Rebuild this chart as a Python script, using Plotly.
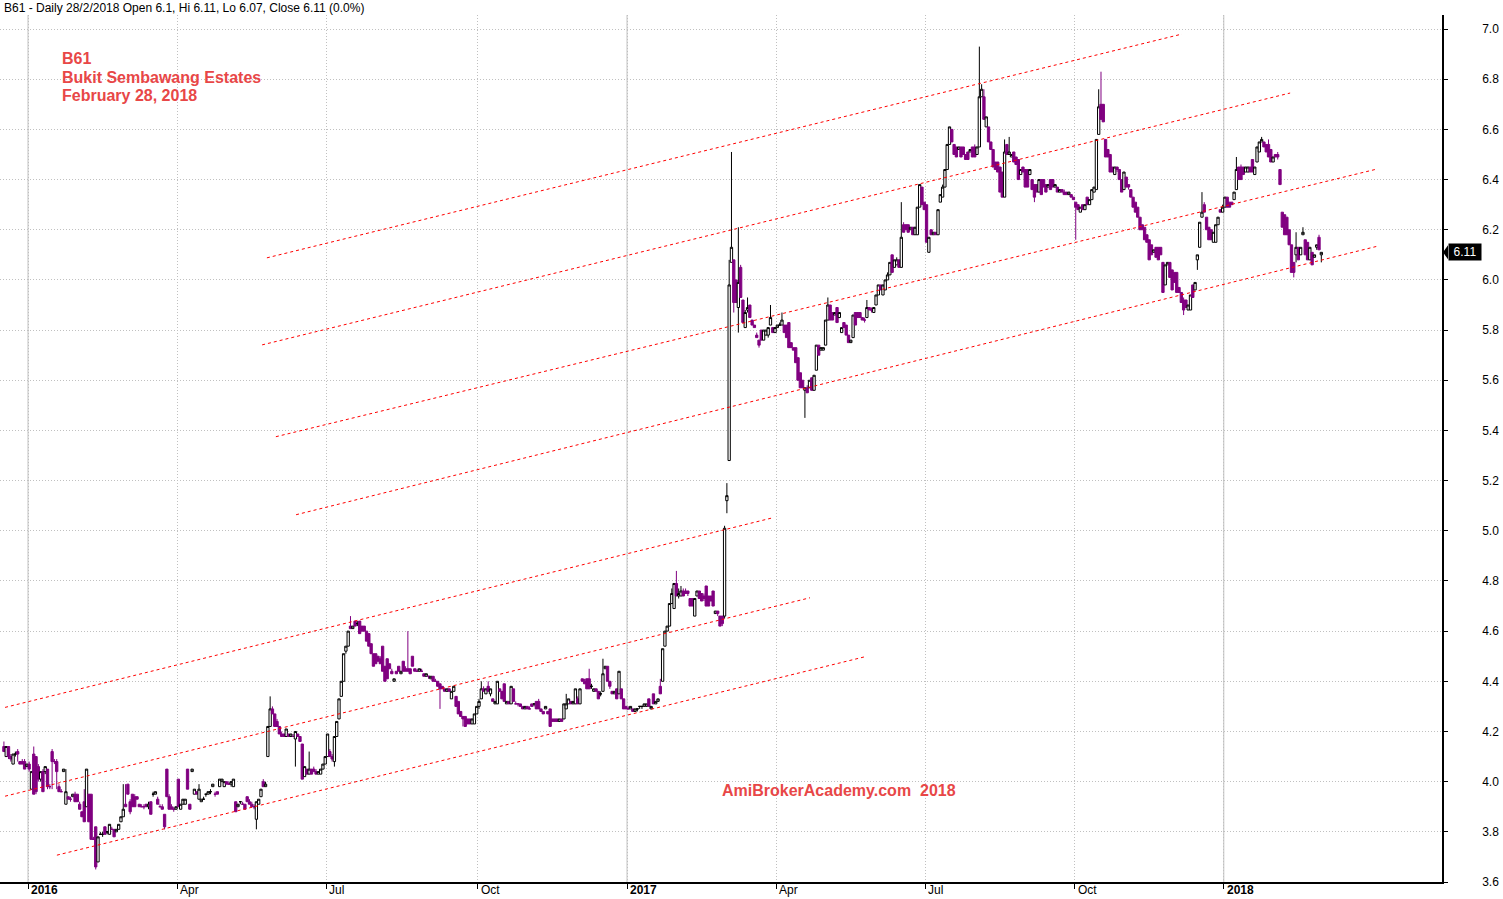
import pandas as pd
import plotly.graph_objects as go

# ---------------- data: daily OHLC (open, high, low, close) per month ----------------
m2015_12 = [(4.14,4.16,4.12,4.12),(4.10,4.14,4.10,4.14),(4.14,4.14,4.09,4.10),(4.10,4.11,4.08,4.09),(4.07,4.11,4.07,4.11),
            (4.11,4.12,4.10,4.11),(4.12,4.13,4.08,4.11),(4.08,4.08,4.07,4.07),(4.08,4.09,4.07,4.07),(4.08,4.09,4.05,4.05),
            (4.06,4.07,4.06,4.07)]
m2016_01 = [(4.07,4.08,4.04,4.05),(3.97,4.04,3.97,4.04),(4.11,4.14,3.95,3.95),(4.10,4.10,3.95,3.96),(4.06,4.07,4.00,4.01),
            (4.01,4.04,4.00,4.04),(4.04,4.05,3.96,3.96),(4.04,4.06,4.03,4.06),(4.05,4.05,3.97,3.98),(3.98,3.99,3.97,3.98),
            (4.12,4.13,3.97,4.08),(4.08,4.09,4.07,4.08),(4.08,4.09,3.97,4.04),(3.98,3.99,3.96,3.96),(3.96,3.97,3.96,3.96),
            (4.04,4.05,4.04,4.05),(3.91,4.05,3.91,3.96),(3.94,3.94,3.93,3.93),(3.93,3.94,3.92,3.93),(3.94,3.95,3.94,3.95),
            (3.95,3.96,3.92,3.92)]
m2016_02 = [(3.95,3.95,3.92,3.92),(3.91,3.92,3.89,3.89),(3.88,3.88,3.86,3.86),(3.92,3.97,3.84,3.84),(3.90,4.05,3.90,4.05),
            (3.95,3.95,3.84,3.84),(3.95,3.95,3.77,3.77),(3.77,3.78,3.77,3.77),(3.82,3.82,3.65,3.66),(3.68,3.78,3.68,3.78),
            (3.79,3.80,3.79,3.79),(3.79,3.80,3.78,3.79),(3.82,3.82,3.79,3.79),(3.80,3.80,3.79,3.80),(3.79,3.83,3.79,3.83),
            (3.81,3.82,3.81,3.81),(3.81,3.81,3.78,3.78),(3.80,3.81,3.80,3.81),(3.81,3.83,3.81,3.83),(3.84,3.86,3.84,3.86),
            (3.86,3.99,3.86,3.89)]
m2016_03 = [(3.91,3.99,3.90,3.90),(3.99,3.99,3.95,3.95),(3.92,3.93,3.87,3.88),(3.95,3.95,3.90,3.90),(3.94,3.95,3.90,3.90),
            (3.94,3.94,3.93,3.93),(3.91,3.91,3.90,3.90),(3.90,3.91,3.90,3.90),(3.90,3.91,3.89,3.90),(3.91,3.91,3.90,3.90),
            (3.90,3.92,3.89,3.91),(3.92,3.92,3.87,3.87),(3.95,3.96,3.94,3.95),(3.95,3.96,3.95,3.96),(3.93,3.94,3.91,3.91),
            (3.90,3.91,3.90,3.90),(3.90,3.91,3.89,3.89),(3.87,3.87,3.81,3.82),(4.05,4.05,3.94,3.94),(3.94,3.95,3.89,3.89),
            (3.90,3.91,3.89,3.89),(3.89,3.90,3.88,3.89),(3.89,3.90,3.89,3.90)]
m2016_04 = [(4.01,4.01,3.90,3.90),(3.89,3.91,3.89,3.91),(3.91,3.93,3.91,3.93),(3.91,3.93,3.91,3.93),(4.05,4.05,3.97,3.97),
            (3.91,3.91,3.89,3.89),(4.04,4.05,4.04,4.05),(3.95,3.97,3.95,3.97),(3.96,3.96,3.95,3.95),(3.93,3.99,3.93,3.97),
            (3.92,3.93,3.92,3.93),(3.93,3.94,3.93,3.93),(3.95,3.95,3.94,3.95),(3.95,3.96,3.95,3.96),(3.96,3.97,3.95,3.96),
            (3.98,3.99,3.98,3.99),(3.95,3.96,3.94,3.95),(3.96,3.96,3.95,3.95),(3.98,4.01,3.98,4.01),(4.00,4.01,4.00,4.01),
            (3.98,4.00,3.98,4.00)]
m2016_05 = [(4.00,4.00,3.99,3.99),(3.99,4.00,3.99,3.99),(3.99,4.00,3.98,4.00),(3.98,4.01,3.98,4.01),(3.92,3.92,3.88,3.88),
            (3.90,3.91,3.90,3.91),(3.92,3.92,3.91,3.92),(3.91,3.92,3.91,3.91),(3.91,3.91,3.89,3.89),(3.94,3.94,3.92,3.92),
            (3.92,3.93,3.91,3.91),(3.91,3.92,3.90,3.90),(3.90,3.91,3.89,3.90),(3.85,3.92,3.81,3.92),(3.91,3.93,3.91,3.93),
            (3.94,3.97,3.94,3.97),(4.00,4.01,3.98,3.98),(3.98,4.00,3.98,3.99),(4.10,4.22,4.10,4.22),(4.22,4.34,4.22,4.29),
            (4.29,4.30,4.27,4.27),(4.27,4.27,4.22,4.22)]
m2016_06 = [(4.24,4.25,4.22,4.22),(4.22,4.22,4.19,4.19),(4.19,4.20,4.18,4.18),(4.19,4.19,4.18,4.18),(4.18,4.21,4.18,4.21),
            (4.19,4.19,4.18,4.18),(4.18,4.19,4.18,4.19),(4.18,4.19,4.18,4.18),(4.17,4.20,4.06,4.20),(4.19,4.19,4.18,4.18),
            (4.18,4.18,4.16,4.16),(4.15,4.15,4.01,4.01),(4.02,4.06,4.02,4.06),(4.05,4.05,4.03,4.03),(4.03,4.12,4.03,4.05),
            (4.05,4.05,4.03,4.03),(4.05,4.06,4.04,4.04),(4.04,4.05,4.03,4.03),(4.03,4.04,4.03,4.04),(4.03,4.05,4.03,4.05),
            (4.05,4.07,4.05,4.07),(4.07,4.10,4.07,4.10)]
m2016_07 = [(4.10,4.19,4.10,4.19),(4.12,4.13,4.10,4.10),(4.10,4.11,4.08,4.09),(4.08,4.18,4.06,4.18),(4.18,4.24,4.18,4.24),
            (4.25,4.33,4.25,4.33),(4.34,4.40,4.34,4.40),(4.40,4.51,4.40,4.51),(4.52,4.54,4.51,4.54),(4.54,4.60,4.54,4.60),
            (4.62,4.66,4.61,4.61),(4.61,4.62,4.61,4.62),(4.64,4.64,4.62,4.62),(4.63,4.64,4.62,4.63),(4.64,4.64,4.59,4.59),
            (4.62,4.62,4.60,4.60),(4.62,4.62,4.60,4.60),(4.60,4.60,4.56,4.56),(4.59,4.59,4.54,4.54),(4.55,4.55,4.51,4.51),
            (4.51,4.51,4.46,4.46)]
m2016_08 = [(4.51,4.51,4.47,4.47),(4.50,4.50,4.48,4.48),(4.49,4.50,4.47,4.47),(4.54,4.54,4.44,4.44),(4.46,4.46,4.40,4.40),
            (4.49,4.49,4.41,4.41),(4.47,4.47,4.45,4.45),(4.44,4.45,4.43,4.43),(4.40,4.41,4.40,4.41),(4.44,4.44,4.43,4.43),
            (4.46,4.46,4.44,4.44),(4.43,4.44,4.43,4.44),(4.48,4.48,4.44,4.44),(4.45,4.46,4.44,4.44),(4.45,4.60,4.44,4.44),
            (4.45,4.45,4.43,4.43),(4.50,4.50,4.46,4.46),(4.45,4.45,4.44,4.44),(4.44,4.45,4.44,4.44),(4.44,4.45,4.44,4.45),
            (4.44,4.45,4.44,4.44),(4.43,4.43,4.42,4.42),(4.42,4.43,4.42,4.43)]
m2016_09 = [(4.42,4.42,4.41,4.42),(4.41,4.42,4.41,4.42),(4.42,4.42,4.40,4.40),(4.40,4.41,4.40,4.40),(4.40,4.40,4.38,4.38),
            (4.39,4.39,4.29,4.37),(4.38,4.38,4.37,4.37),(4.37,4.37,4.36,4.36),(4.36,4.37,4.36,4.37),(4.37,4.37,4.36,4.36),
            (4.33,4.36,4.33,4.36),(4.36,4.38,4.36,4.38),(4.34,4.34,4.30,4.30),(4.32,4.32,4.27,4.27),(4.28,4.28,4.26,4.26),
            (4.26,4.26,4.22,4.25),(4.26,4.26,4.22,4.22),(4.25,4.25,4.23,4.23),(4.25,4.25,4.23,4.23),(4.23,4.25,4.23,4.25),
            (4.23,4.27,4.23,4.27),(4.27,4.30,4.27,4.30)]
m2016_10 = [(4.30,4.33,4.29,4.32),(4.33,4.40,4.33,4.37),(4.37,4.38,4.36,4.36),(4.35,4.37,4.35,4.37),(4.38,4.40,4.36,4.36),
            (4.35,4.37,4.34,4.37),(4.33,4.33,4.32,4.32),(4.31,4.32,4.31,4.32),(4.31,4.40,4.31,4.40),(4.37,4.37,4.36,4.36),
            (4.36,4.36,4.33,4.33),(4.39,4.39,4.32,4.32),(4.31,4.32,4.31,4.32),(4.32,4.32,4.31,4.31),(4.31,4.38,4.31,4.38),
            (4.37,4.37,4.32,4.32),(4.31,4.32,4.31,4.31),(4.31,4.31,4.30,4.31),(4.31,4.31,4.30,4.30),(4.30,4.30,4.29,4.29),
            (4.29,4.30,4.29,4.30)]
m2016_11 = [(4.30,4.30,4.29,4.29),(4.29,4.30,4.29,4.29),(4.31,4.31,4.30,4.30),(4.31,4.31,4.30,4.31),(4.32,4.32,4.29,4.29),
            (4.32,4.33,4.29,4.29),(4.29,4.29,4.28,4.28),(4.28,4.28,4.27,4.27),(4.29,4.30,4.29,4.30),(4.28,4.28,4.27,4.27),
            (4.29,4.29,4.22,4.22),(4.25,4.25,4.24,4.24),(4.25,4.25,4.24,4.24),(4.25,4.25,4.24,4.24),(4.24,4.25,4.24,4.25),
            (4.25,4.25,4.24,4.24),(4.25,4.31,4.25,4.31),(4.29,4.35,4.29,4.31),(4.31,4.33,4.31,4.33),(4.32,4.32,4.31,4.31),
            (4.31,4.32,4.31,4.32),(4.31,4.37,4.31,4.37)]
m2016_12 = [(4.33,4.34,4.31,4.31),(4.31,4.37,4.31,4.37),(4.41,4.41,4.40,4.40),(4.40,4.41,4.39,4.39),(4.41,4.41,4.37,4.37),
            (4.41,4.45,4.37,4.37),(4.38,4.39,4.37,4.38),(4.36,4.37,4.36,4.37),(4.37,4.37,4.36,4.36),(4.36,4.36,4.33,4.33),
            (4.35,4.36,4.34,4.35),(4.36,4.49,4.36,4.43),(4.45,4.46,4.45,4.46),(4.46,4.46,4.40,4.40),(4.40,4.40,4.37,4.38),
            (4.36,4.36,4.35,4.35),(4.35,4.36,4.35,4.36),(4.37,4.37,4.33,4.33),(4.35,4.44,4.35,4.44),(4.37,4.37,4.33,4.33),
            (4.33,4.33,4.29,4.29),(4.30,4.30,4.29,4.29)]
m2017_01 = [(4.29,4.30,4.29,4.29),(4.29,4.30,4.29,4.30),(4.29,4.29,4.28,4.28),(4.28,4.29,4.28,4.29),(4.29,4.29,4.28,4.29),
            (4.30,4.30,4.29,4.30),(4.30,4.30,4.29,4.30),(4.30,4.31,4.30,4.31),(4.30,4.31,4.30,4.31),(4.33,4.33,4.30,4.30),
            (4.29,4.30,4.29,4.30),(4.35,4.35,4.31,4.31),(4.31,4.32,4.31,4.32),(4.32,4.33,4.32,4.33),(4.38,4.41,4.35,4.35),
            (4.40,4.53,4.40,4.53),(4.54,4.60,4.54,4.60),(4.60,4.62,4.60,4.62),(4.62,4.71,4.62,4.71),(4.71,4.77,4.71,4.75),
            (4.69,4.79,4.69,4.79),(4.79,4.84,4.74,4.74)]
m2017_02 = [(4.74,4.77,4.73,4.75),(4.74,4.78,4.74,4.76),(4.76,4.77,4.74,4.74),(4.76,4.77,4.75,4.75),(4.76,4.76,4.74,4.75),
            (4.73,4.73,4.70,4.70),(4.73,4.73,4.70,4.70),(4.66,4.73,4.66,4.73),(4.74,4.76,4.74,4.76),(4.76,4.76,4.73,4.73),
            (4.75,4.75,4.72,4.72),(4.74,4.75,4.72,4.73),(4.78,4.78,4.70,4.70),(4.74,4.74,4.70,4.70),(4.74,4.74,4.72,4.72),
            (4.76,4.76,4.70,4.70),(4.67,4.68,4.67,4.68),(4.68,4.68,4.66,4.67),(4.66,4.66,4.62,4.62),(4.66,4.66,4.62,4.63)]
m2017_03 = [(4.66,5.02,4.65,5.01),(5.12,5.19,5.07,5.14),(5.28,6.08,5.28,5.98),(6.07,6.51,6.07,6.13),(6.08,6.08,5.87,5.91),
            (6.00,6.00,5.91,5.91),(5.89,6.21,5.79,5.99),(6.05,6.06,5.93,5.93),(5.92,5.92,5.83,5.83),(5.81,5.88,5.81,5.87),
            (5.88,5.93,5.87,5.89),(5.90,5.90,5.85,5.85),(5.84,5.84,5.82,5.82),(5.82,5.82,5.81,5.81),(5.78,5.79,5.77,5.77),
            (5.76,5.76,5.73,5.74),(5.80,5.80,5.76,5.76),(5.76,5.80,5.76,5.80),(5.78,5.80,5.78,5.80),(5.78,5.81,5.77,5.81),
            (5.82,5.90,5.82,5.85),(5.81,5.81,5.79,5.79),(5.79,5.81,5.79,5.81)]
m2017_04 = [(5.81,5.82,5.81,5.82),(5.82,5.83,5.82,5.82),(5.82,5.87,5.82,5.84),(5.82,5.82,5.79,5.79),(5.82,5.82,5.77,5.77),
            (5.83,5.83,5.73,5.73),(5.75,5.75,5.73,5.73),(5.73,5.73,5.72,5.72),(5.73,5.73,5.67,5.67),(5.69,5.69,5.60,5.60),
            (5.63,5.63,5.57,5.57),(5.60,5.60,5.57,5.57),(5.56,5.57,5.45,5.57),(5.57,5.58,5.55,5.55),(5.57,5.60,5.57,5.60),
            (5.61,5.61,5.56,5.56),(5.56,5.62,5.56,5.62),(5.64,5.74,5.64,5.74),(5.74,5.74,5.70,5.70),(5.72,5.73,5.72,5.73)]
m2017_05 = [(5.72,5.73,5.72,5.73),(5.74,5.84,5.74,5.84),(5.84,5.93,5.84,5.90),(5.90,5.90,5.84,5.84),(5.87,5.87,5.84,5.84),
            (5.86,5.87,5.86,5.87),(5.89,5.89,5.83,5.83),(5.85,5.87,5.85,5.87),(5.79,5.81,5.79,5.81),(5.83,5.83,5.81,5.81),
            (5.82,5.82,5.78,5.78),(5.78,5.78,5.75,5.75),(5.75,5.76,5.75,5.76),(5.77,5.86,5.77,5.86),(5.87,5.87,5.82,5.82),
            (5.87,5.87,5.85,5.85),(5.87,5.87,5.85,5.85),(5.85,5.85,5.84,5.84),(5.84,5.85,5.83,5.84),(5.85,5.92,5.85,5.89),
            (5.89,5.89,5.88,5.88),(5.88,5.89,5.87,5.88),(5.87,5.89,5.87,5.89)]
m2017_06 = [(5.90,5.94,5.90,5.94),(5.94,5.98,5.94,5.98),(5.98,5.98,5.96,5.96),(5.94,5.98,5.94,5.98),(5.96,6.00,5.96,6.00),
            (6.00,6.03,6.00,6.02),(6.02,6.07,6.02,6.07),(6.10,6.10,6.03,6.03),(6.05,6.08,6.05,6.08),(6.06,6.09,6.06,6.08),
            (6.08,6.08,6.05,6.05),(6.05,6.31,6.05,6.17),(6.22,6.23,6.19,6.19),(6.22,6.22,6.20,6.20),(6.22,6.22,6.19,6.19),
            (6.20,6.21,6.20,6.21),(6.21,6.21,6.18,6.18),(6.18,6.21,6.18,6.21),(6.18,6.29,6.18,6.29),(6.29,6.38,6.29,6.38),
            (6.37,6.37,6.30,6.30),(6.31,6.31,6.28,6.28)]
m2017_07 = [(6.30,6.30,6.15,6.15),(6.11,6.17,6.11,6.17),(6.20,6.20,6.18,6.18),(6.18,6.19,6.18,6.19),(6.19,6.19,6.18,6.18),
            (6.18,6.28,6.18,6.28),(6.31,6.34,6.31,6.34),(6.33,6.38,6.33,6.37),(6.37,6.44,6.37,6.44),(6.44,6.54,6.44,6.54),
            (6.54,6.61,6.54,6.61),(6.60,6.60,6.55,6.55),(6.54,6.54,6.50,6.50),(6.53,6.53,6.49,6.49),(6.52,6.53,6.52,6.53),
            (6.53,6.53,6.49,6.49),(6.53,6.53,6.50,6.50),(6.50,6.50,6.48,6.48),(6.51,6.51,6.48,6.48),(6.51,6.52,6.51,6.52),
            (6.53,6.53,6.49,6.49)]
m2017_08 = [(6.53,6.54,6.49,6.49),(6.50,6.53,6.50,6.53),(6.53,6.93,6.53,6.73),(6.73,6.78,6.73,6.76),(6.73,6.76,6.64,6.64),
            (6.61,6.65,6.61,6.65),(6.61,6.61,6.55,6.55),(6.55,6.55,6.52,6.52),(6.52,6.52,6.45,6.45),(6.47,6.47,6.44,6.44),
            (6.47,6.47,6.43,6.43),(6.45,6.45,6.35,6.35),(6.43,6.43,6.33,6.33),(6.33,6.56,6.33,6.51),(6.54,6.54,6.50,6.50),
            (6.50,6.57,6.50,6.51),(6.49,6.50,6.49,6.50),(6.51,6.51,6.47,6.47),(6.49,6.49,6.46,6.46),(6.48,6.48,6.40,6.40),
            (6.42,6.44,6.42,6.44),(6.45,6.45,6.43,6.43),(6.44,6.44,6.37,6.37)]
m2017_09 = [(6.44,6.44,6.37,6.37),(6.42,6.44,6.42,6.44),(6.40,6.40,6.36,6.36),(6.38,6.38,6.31,6.33),(6.38,6.38,6.35,6.35),
            (6.35,6.40,6.35,6.40),(6.40,6.40,6.34,6.34),(6.40,6.40,6.37,6.37),(6.38,6.38,6.35,6.35),(6.37,6.38,6.37,6.38),
            (6.40,6.40,6.36,6.36),(6.40,6.40,6.37,6.37),(6.37,6.38,6.37,6.38),(6.37,6.37,6.35,6.35),(6.35,6.36,6.35,6.36),
            (6.36,6.36,6.35,6.35),(6.35,6.36,6.34,6.34),(6.35,6.35,6.34,6.34),(6.34,6.35,6.34,6.35),(6.34,6.34,6.33,6.33),
            (6.33,6.33,6.32,6.32)]
m2017_10 = [(6.31,6.31,6.16,6.29),(6.30,6.30,6.28,6.28),(6.27,6.29,6.27,6.29),(6.30,6.30,6.28,6.28),(6.28,6.30,6.28,6.30),
            (6.33,6.33,6.30,6.30),(6.30,6.32,6.30,6.32),(6.32,6.36,6.32,6.36),(6.35,6.37,6.35,6.37),(6.36,6.56,6.36,6.56),
            (6.58,6.76,6.58,6.69),(6.70,6.83,6.64,6.64),(6.70,6.70,6.63,6.63),(6.56,6.56,6.49,6.49),(6.52,6.52,6.49,6.49),
            (6.50,6.50,6.43,6.43),(6.45,6.45,6.43,6.43),(6.42,6.45,6.42,6.45),(6.45,6.45,6.43,6.44),(6.44,6.44,6.40,6.40),
            (6.40,6.40,6.35,6.35),(6.36,6.43,6.36,6.43)]
m2017_11 = [(6.41,6.41,6.37,6.37),(6.38,6.38,6.36,6.37),(6.36,6.36,6.33,6.33),(6.33,6.33,6.29,6.29),(6.31,6.31,6.27,6.27),
            (6.29,6.29,6.25,6.25),(6.25,6.25,6.20,6.20),(6.22,6.22,6.20,6.20),(6.21,6.21,6.16,6.16),(6.18,6.18,6.15,6.15),
            (6.16,6.16,6.08,6.08),(6.14,6.14,6.10,6.10),(6.11,6.12,6.11,6.12),(6.13,6.13,6.09,6.09),(6.13,6.13,6.08,6.08),
            (6.13,6.13,6.10,6.10),(6.07,6.07,5.95,5.95),(5.98,6.06,5.98,6.06),(6.06,6.07,6.06,6.07),(6.07,6.07,6.01,6.01),
            (6.04,6.04,5.96,5.96),(6.03,6.03,5.99,5.99)]
m2017_12 = [(6.03,6.03,5.95,5.95),(5.97,5.97,5.95,5.95),(5.95,5.95,5.91,5.91),(5.92,5.93,5.86,5.88),(5.92,5.92,5.89,5.89),
            (5.88,5.90,5.88,5.90),(5.88,5.94,5.88,5.94),(5.98,5.98,5.93,5.93),(5.96,5.99,5.96,5.99),(6.08,6.10,6.04,6.10),
            (6.13,6.23,6.13,6.23),(6.25,6.35,6.25,6.27),(6.30,6.31,6.27,6.27),(6.25,6.25,6.20,6.20),(6.21,6.21,6.16,6.16),
            (6.20,6.20,6.16,6.16),(6.15,6.19,6.15,6.19),(6.15,6.22,6.15,6.22),(6.22,6.25,6.22,6.25),(6.28,6.28,6.27,6.27),
            (6.27,6.30,6.27,6.29)]
m2018_01 = [(6.29,6.33,6.29,6.33),(6.33,6.33,6.29,6.29),(6.31,6.31,6.29,6.29),(6.31,6.31,6.30,6.30),(6.32,6.35,6.32,6.35),
            (6.36,6.49,6.36,6.44),(6.45,6.45,6.40,6.40),(6.45,6.46,6.40,6.40),(6.45,6.45,6.42,6.42),(6.43,6.45,6.43,6.45),
            (6.43,6.45,6.43,6.45),(6.45,6.45,6.43,6.43),(6.48,6.48,6.43,6.43),(6.42,6.45,6.42,6.45),(6.47,6.53,6.47,6.53),
            (6.51,6.55,6.51,6.55),(6.55,6.57,6.55,6.56),(6.55,6.55,6.53,6.53),(6.54,6.54,6.51,6.51),(6.54,6.56,6.49,6.49),
            (6.52,6.52,6.47,6.47),(6.47,6.49,6.47,6.49),(6.50,6.50,6.49,6.49)]
m2018_02 = [(6.50,6.51,6.48,6.49),(6.44,6.44,6.38,6.38),(6.27,6.27,6.21,6.21),(6.26,6.26,6.18,6.18),(6.25,6.25,6.18,6.18),
            (6.20,6.20,6.14,6.14),(6.14,6.14,6.03,6.03),(6.07,6.07,6.01,6.03),(6.10,6.19,6.07,6.13),(6.13,6.13,6.08,6.08),
            (6.10,6.13,6.10,6.13),(6.18,6.21,6.18,6.19),(6.16,6.16,6.10,6.10),(6.15,6.15,6.08,6.08),(6.08,6.13,6.08,6.13),
            (6.11,6.11,6.06,6.06),(6.09,6.10,6.09,6.10),(6.13,6.14,6.12,6.14),(6.17,6.18,6.12,6.12),(6.10,6.11,6.07,6.11)]

months = [("2015-12", m2015_12), ("2016-01", m2016_01), ("2016-02", m2016_02), ("2016-03", m2016_03),
          ("2016-04", m2016_04), ("2016-05", m2016_05), ("2016-06", m2016_06), ("2016-07", m2016_07),
          ("2016-08", m2016_08), ("2016-09", m2016_09), ("2016-10", m2016_10), ("2016-11", m2016_11),
          ("2016-12", m2016_12), ("2017-01", m2017_01), ("2017-02", m2017_02), ("2017-03", m2017_03),
          ("2017-04", m2017_04), ("2017-05", m2017_05), ("2017-06", m2017_06), ("2017-07", m2017_07),
          ("2017-08", m2017_08), ("2017-09", m2017_09), ("2017-10", m2017_10), ("2017-11", m2017_11),
          ("2017-12", m2017_12), ("2018-01", m2018_01), ("2018-02", m2018_02)]

# Trend lines drawn on the chart: (start date, start price, end date, end price)
trend_lines = [
    ("2016-05-26 02:00", 6.088, "2017-12-05 19:00", 6.980),
    ("2016-05-24 00:00", 5.741, "2018-02-08 22:00", 6.745),
    ("2016-06-01 00:00", 5.375, "2018-04-03 19:00", 6.442),
    ("2016-06-13 19:00", 5.064, "2018-04-04 05:00", 6.135),
    ("2015-12-18 00:00", 4.296, "2017-03-30 14:00", 5.052),
    ("2015-12-18 00:00", 3.942, "2017-04-21 17:00", 4.733),
    ("2016-01-19 14:00", 3.707, "2017-05-25 17:00", 4.498),
]

x_tick_dates = ["2016-01-01", "2016-04-01", "2016-07-01", "2016-10-03", "2017-01-02",
                "2017-04-03", "2017-07-03", "2017-10-02", "2018-01-01"]
x_tick_labels = ["2016", "Apr", "Jul", "Oct", "2017", "Apr", "Jul", "Oct", "2018"]
year_lines = ["2016-01-01", "2017-01-02", "2018-01-01"]
y_ticks = [3.6, 3.8, 4.0, 4.2, 4.4, 4.6, 4.8, 5.0, 5.2, 5.4, 5.6, 5.8, 6.0, 6.2, 6.4, 6.6, 6.8, 7.0]
last_close = 6.11

title_text = "B61 - Daily 28/2/2018 Open 6.1, Hi 6.11, Lo 6.07, Close 6.11 (0.0%)"
info_lines = ["B61", "Bukit Sembawang Estates", "February 28, 2018"]
watermark = "AmiBrokerAcademy.com\u00a0 2018"

# ---------------- build series ----------------
dates, o, h, l, c = [], [], [], [], []
for ym, rows in months:
    start = pd.Timestamp(ym + "-01")
    days = pd.bdate_range(start, start + pd.offsets.MonthEnd(0))
    days = days[-len(rows):] if ym == "2015-12" else days[:len(rows)]
    for d, (oo, hh, ll, cc) in zip(days, rows):
        dates.append(d + pd.Timedelta(hours=12))
        o.append(oo); h.append(hh); l.append(ll); c.append(cc)

PURPLE = "#800080"
RED_TXT = "#E84747"
FONT = "Arial, Liberation Sans, sans-serif"

fig = go.Figure()
fig.add_trace(go.Candlestick(
    x=dates, open=o, high=h, low=l, close=c,
    increasing=dict(line=dict(color="black", width=1), fillcolor="white"),
    decreasing=dict(line=dict(color=PURPLE, width=1), fillcolor=PURPLE),
    whiskerwidth=0, showlegend=False, hoverinfo="skip",
))

shapes = []
for yd in year_lines:
    shapes.append(dict(type="line", xref="x", yref="paper", x0=yd, x1=yd, y0=0, y1=1,
                       line=dict(color="#C0C0C0", width=1), layer="below"))
for x0, y0, x1, y1 in trend_lines:
    shapes.append(dict(type="line", xref="x", yref="y", x0=x0, y0=y0, x1=x1, y1=y1,
                       line=dict(color="#FF0000", width=1, dash="3px,3px"), layer="above"))
# pointer of the last-price tag
shapes.append(dict(type="path", xref="paper", yref="y", xsizemode="pixel", ysizemode="pixel",
                   xanchor=1, yanchor=last_close, path="M 1 0 L 6 -7 L 6 7 Z",
                   fillcolor="black", line=dict(width=0)))

W, H = 1503, 899
ML, MR, MT, MB = 0, 61, 15, 17
PH = H - MT - MB
PW = W - ML - MR

def py(ypix):
    return 1 - (ypix - MT) / PH

def px(xpix):
    return (xpix - ML) / PW

annotations = [
    dict(text=title_text, xref="paper", yref="paper", x=0, y=1, xanchor="left", yanchor="middle",
         xshift=2, yshift=7, showarrow=False, font=dict(family=FONT, size=12, color="black")),
    dict(text=watermark, xref="paper", yref="paper", x=px(720), y=py(790), xanchor="left", yanchor="middle",
         showarrow=False, font=dict(family=FONT, size=16, color=RED_TXT, weight="bold")),
    dict(text=f"{last_close:.2f}", xref="paper", yref="y", x=1, y=last_close, xanchor="left", yanchor="middle",
         xshift=6, showarrow=False, bgcolor="black", borderpad=1, width=30,
         font=dict(family=FONT, size=12, color="white")),
]
for i, t in enumerate(info_lines):
    annotations.append(dict(text=t, xref="paper", yref="paper", x=px(60), y=py(58 + 19 * i),
                            xanchor="left", yanchor="middle", showarrow=False,
                            font=dict(family=FONT, size=16, color=RED_TXT, weight="bold")))
for d, t in zip(x_tick_dates, x_tick_labels):
    is_year = t.isdigit()
    annotations.append(dict(text=t, xref="x", yref="paper", x=d, y=0, xanchor="left", yanchor="middle",
                            xshift=1, yshift=-8, showarrow=False,
                            font=dict(family=FONT, size=12, color="black",
                                      weight="bold" if is_year else "normal")))

fig.update_layout(
    width=W, height=H,
    margin=dict(l=ML, r=MR, t=MT, b=MB),
    paper_bgcolor="white", plot_bgcolor="white",
    shapes=shapes, annotations=annotations,
    boxgap=0, boxgroupgap=0,
    xaxis=dict(
        type="date", rangeslider=dict(visible=False),
        rangebreaks=[dict(bounds=["sat", "mon"])],
        range=["2015-12-15 19:00", "2018-05-14 02:00"],
        tickvals=x_tick_dates, showticklabels=False,
        ticks="outside", ticklen=5, tickcolor="black", tickwidth=1,
        showgrid=True, gridcolor="#C0C0C0", griddash="1px,2px", gridwidth=1,
        showline=True, linecolor="black", linewidth=1.5, zeroline=False,
    ),
    yaxis=dict(
        side="right", range=[3.6, 7.056],
        tickvals=y_ticks, tickformat=".1f",
        ticks="outside", ticklen=4, tickcolor="black", tickwidth=1,
        ticklabelstandoff=32,
        tickfont=dict(family=FONT, size=12, color="black"),
        showgrid=True, gridcolor="#C0C0C0", griddash="1px,2px", gridwidth=1,
        showline=True, linecolor="black", linewidth=1.5, zeroline=False,
    ),
    hovermode=False,
)

fig.write_html("out.html", config={"displayModeBar": False},
               post_script="document.body.style.margin='0';")
